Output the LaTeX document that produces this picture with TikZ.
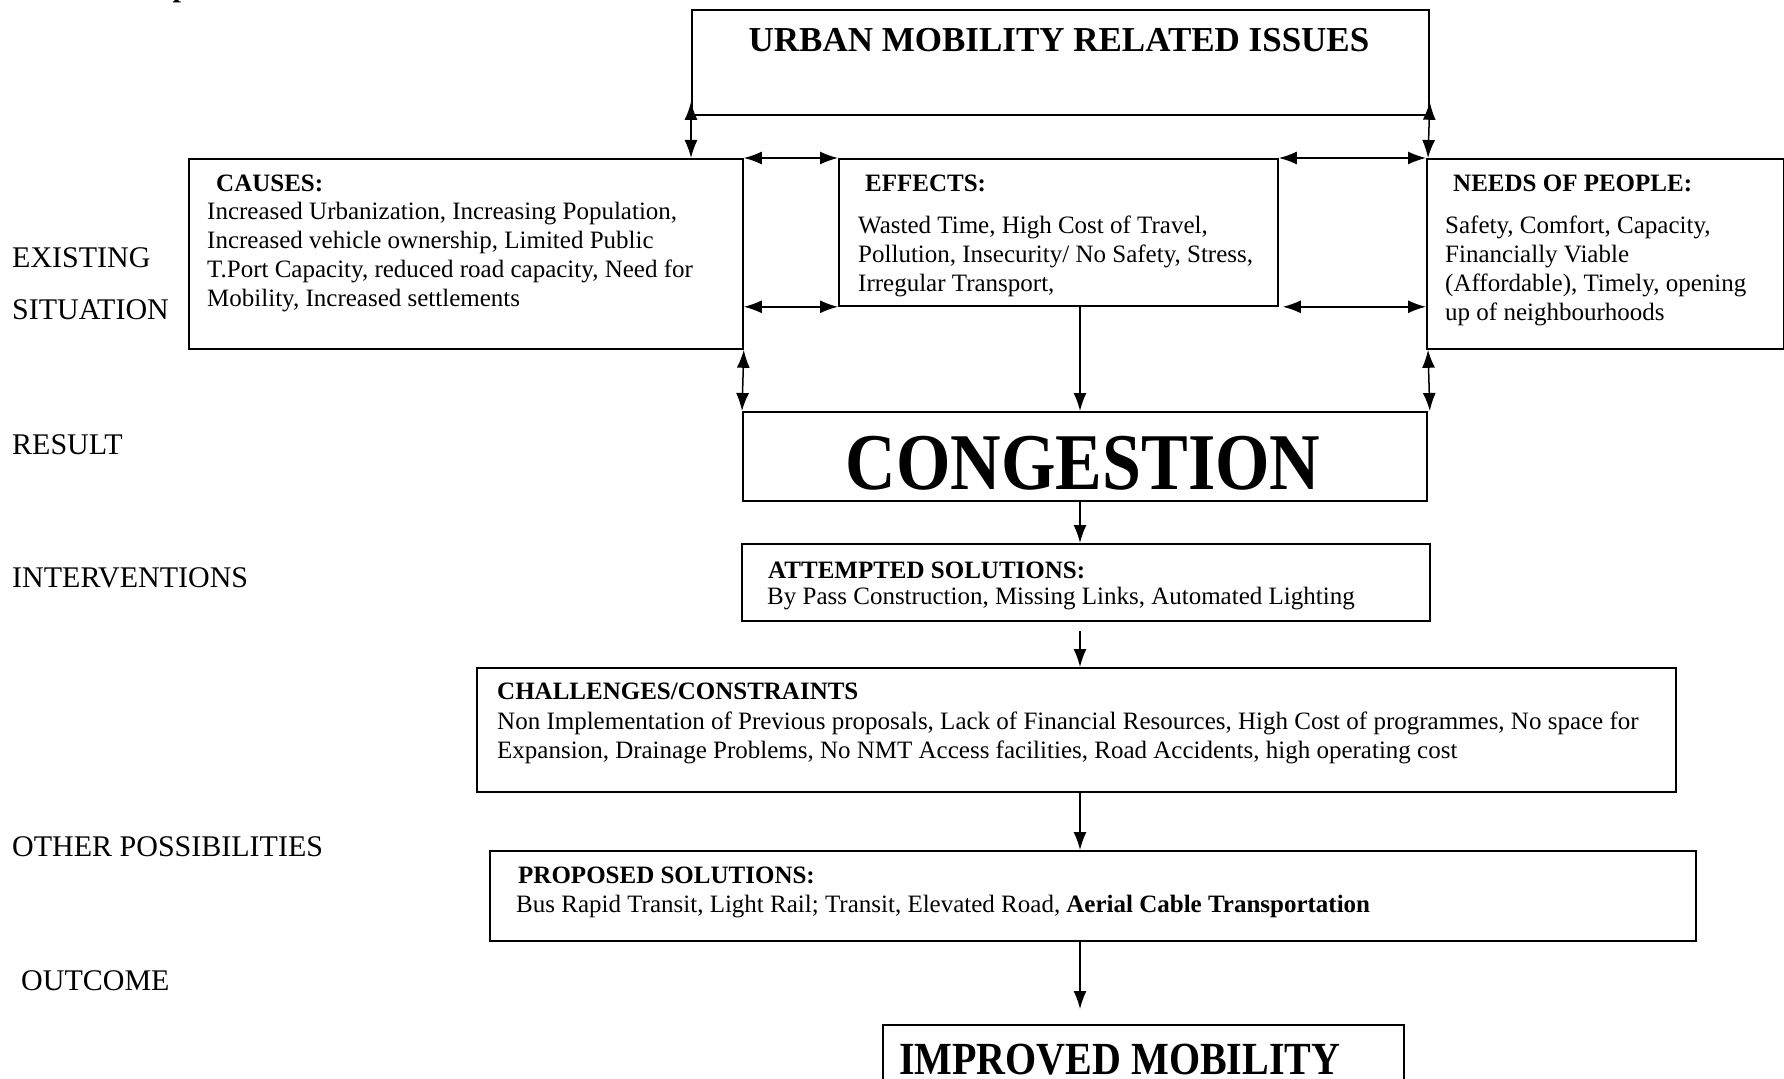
\documentclass[tikz,border=0pt]{standalone}
\usepackage{fontspec}
\setmainfont{Liberation Serif}
\usetikzlibrary{arrows.meta,calc}
\begin{document}
\begin{tikzpicture}[x=1pt,y=-1pt,
  box/.style={draw, line width=1.8pt, inner sep=0pt, anchor=north west},
  arr/.style={line width=1.5pt, -{Latex[length=18pt,width=13pt]}},
  darr/.style={line width=1.5pt, {Latex[length=18pt,width=13pt]}-{Latex[length=18pt,width=13pt]}},
  body/.style={font=\fontsize{25}{29.2}\selectfont, anchor=base west, inner sep=0pt, align=left},
  head/.style={font=\fontsize{25}{29.2}\selectfont\bfseries, anchor=base west, inner sep=0pt},
  side/.style={font=\fontsize{30}{36}\selectfont, anchor=base west, inner sep=0pt}
]
\clip (0,0) rectangle (1784,1078);
\fill[white] (0,0) rectangle (1784,1078);

% boxes
\node[box, minimum width=737pt, minimum height=105pt] (top) at (691,9) {};
\node[box, minimum width=554pt, minimum height=190pt] (causes) at (188,158) {};
\node[box, minimum width=439pt, minimum height=147pt] (effects) at (838,158) {};
\node[box, minimum width=357pt, minimum height=190pt] (needs) at (1426,158) {};
\node[box, minimum width=684pt, minimum height=89pt] (cong) at (742,411) {};
\node[box, minimum width=688pt, minimum height=77pt] (att) at (741,543) {};
\node[box, minimum width=1199pt, minimum height=124pt] (chal) at (476,667) {};
\node[box, minimum width=1206pt, minimum height=90pt] (prop) at (489,850) {};
\node[box, minimum width=521pt, minimum height=100pt] (impr) at (882,1024) {};

% fragment of heading above
\node[font=\fontsize{30}{36}\selectfont\bfseries, anchor=base, inner sep=0pt] (frag) at (181,-3.5) {p};

% texts (base anchor of a multi-line node = baseline of its last line)
\node[font=\fontsize{35}{42}\selectfont\bfseries, anchor=base, inner sep=0pt] (topT) at (1059,52) {URBAN MOBILITY RELATED ISSUES};

\node[head] (causesH) at (216,191) {CAUSES:};
\node[body] (causesB) at (207,306.6) {Increased Urbanization, Increasing Population,\\Increased vehicle ownership, Limited Public\\T.Port Capacity, reduced road capacity, Need for\\Mobility, Increased settlements};

\node[head] (effectsH) at (865,191) {EFFECTS:};
\node[body] (effectsB) at (858,291.4) {Wasted Time, High Cost of Travel,\\Pollution, Insecurity/ No Safety, Stress,\\Irregular Transport,};

\node[head] (needsH) at (1453,191) {NEEDS OF PEOPLE:};
\node[body] (needsB) at (1445,320.6) {Safety, Comfort, Capacity,\\Financially Viable\\(Affordable), Timely, opening\\up of neighbourhoods};

\node[font=\fontsize{70}{80}\selectfont\bfseries, anchor=base, inner sep=0pt] (congT) at (1083,489) {\scalebox{1}[1.15]{CONGESTION}};

\node[head] (attH) at (768,578) {ATTEMPTED SOLUTIONS:};
\node[body] (attB) at (767,604) {By Pass Construction, Missing Links, Automated Lighting};

\node[head] (chalH) at (497,699) {CHALLENGES/CONSTRAINTS};
\node[body] (chalB) at (497,758.2) {Non Implementation of Previous proposals, Lack of Financial Resources, High Cost of programmes, No space for\\Expansion, Drainage Problems, No NMT Access facilities, Road Accidents, high operating cost};

\node[head] (propH) at (518,883) {PROPOSED SOLUTIONS:};
\node[body] (propB) at (516,912) {Bus Rapid Transit, Light Rail; Transit, Elevated Road, \textbf{Aerial Cable Transportation}};

\node[font=\fontsize{40}{48}\selectfont\bfseries, anchor=base west, inner sep=0pt] (imprT) at (899,1074) {\scalebox{1}[1.15]{IMPROVED MOBILITY}};

% side labels
\node[side] (l1) at (12,267) {EXISTING};
\node[side] (l2) at (12,319) {SITUATION};
\node[side] (l3) at (12,454) {RESULT};
\node[side] (l4) at (12,587) {INTERVENTIONS};
\node[side] (l5) at (12,856) {OTHER POSSIBILITIES};
\node[side] (l6) at (21,990) {OUTCOME};

% connectors
\coordinate (spine) at (1080,0);
\draw[darr] (causes.north -| top.south west) -- ($(top.south west)+(0,-14)$);
\draw[darr] ($(needs.north west)+(2,0)$) -- ($(top.south east)+(0,-14)$);
\draw[darr] (causes.north east) -- (effects.north west);
\draw[darr] (causes.east |- effects.south west) -- (effects.south west);
\draw[darr] (effects.north east) -- (needs.north west);
\draw[darr] ($(effects.south east)+(4,0)$) -- (needs.west |- effects.south east);
\draw[darr] (causes.south east) -- (cong.north west);
\draw[darr] ($(needs.south west)+(2,0)$) -- ($(cong.north east)+(2,0)$);
\draw[arr] (effects.south -| spine) -- (cong.north -| spine);
\draw[arr] (cong.south -| spine) -- (att.north -| spine);
\draw[arr, shorten <=9pt] (att.south -| spine) -- (chal.north -| spine);
\draw[arr] (chal.south -| spine) -- (prop.north -| spine);
\draw[arr, shorten >=15pt] (prop.south -| spine) -- (impr.north -| spine);
\end{tikzpicture}
\end{document}
